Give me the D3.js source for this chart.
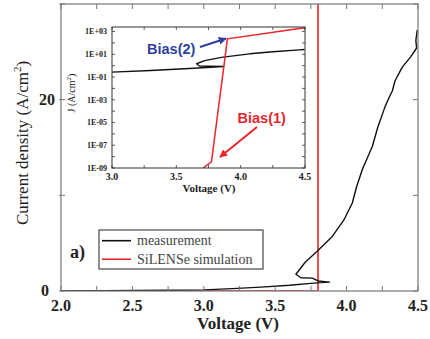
<!DOCTYPE html>
<html><head><meta charset="utf-8">
<script src="https://cdn.jsdelivr.net/npm/d3@7"></script>
<style>html,body{margin:0;padding:0;background:#fff;}svg{display:block;}</style>
</head><body>
<svg id="c" width="430" height="339"></svg>
<script>
// ---- data ----
const measV = [2.00,2.30,2.50,2.80,3.00,3.20,3.40,3.60,3.75,3.82,3.88,3.80,3.76,3.68,3.645,3.71,3.79,3.90,3.98,4.04,4.07,4.11,4.18,4.22,4.27,4.30,4.32,4.34,4.39,4.45,4.49,4.485,4.495];
const measJ = [0,0.02,0.05,0.08,0.12,0.25,0.40,0.60,0.80,0.88,0.93,1.05,1.35,1.38,1.75,3.0,4.1,5.7,7.4,9.2,10.9,12.7,15.1,17.2,19.3,20.3,20.9,22.0,23.4,24.5,25.4,26.2,27.3];
const simV = [2.0,3.80,3.80];
const simJ = [0,0,30];
const insetMeasV = [3.00,3.30,3.60,3.80,3.868,3.75,3.68,3.657,3.72,3.80,3.863,4.07,4.25,4.457,4.496];
const insetMeasJ = [0.27,0.38,0.56,0.76,0.85,0.89,0.93,1.48,2.8,4.2,5.6,11,16.6,24.5,26.3];
const insetSimV = [3.708,3.773,3.897,4.50];
const insetSimJ = [1e-9,3.5e-9,230,2200];
const xTicks = [2.0,2.5,3.0,3.5,4.0,4.5];
const xMinor = [2.25,2.75,3.25,3.75,4.25];
const yTicks = [0,10,20,30];
const yLabels = {0:"0",20:"20"};
const insetXTicks = [3.0,3.5,4.0,4.5];
const insetXMinor = [3.25,3.75,4.25];
const insetYTicks = [1e-9,1e-8,1e-7,1e-6,1e-5,1e-4,1e-3,1e-2,1e-1,1,10,100,1000];
const insetYLabels = ["1E-09","1E-07","1E-05","1E-03","1E-01","1E+01","1E+03"];
const legendItems = [{name:"measurement",color:"#111"},{name:"SiLENSe simulation",color:"#e8262b"}];

const RED = "#e8262b", BLUE = "#2f3f9f";
const serif = "'Liberation Serif','Times New Roman',serif";
const sans = "'Liberation Sans',Arial,sans-serif";
const svg = d3.select("#c");

// ---- main plot ----
const x = d3.scaleLinear().domain([2,4.5]).range([61,418]);
const y = d3.scaleLinear().domain([0,30]).range([291,4]);
svg.append("clipPath").attr("id","mc").append("rect")
  .attr("x",61).attr("y",4).attr("width",357).attr("height",287);

const g = svg.append("g");
const line = d3.line().x(d=>x(d[0])).y(d=>y(d[1]));
g.append("path").attr("clip-path","url(#mc)")
  .datum(simV.map((v,i)=>[v,simJ[i]])).attr("d",line)
  .attr("fill","none").attr("stroke",RED).attr("stroke-width",1.6);
g.append("path").attr("clip-path","url(#mc)")
  .datum(measV.map((v,i)=>[v,measJ[i]])).attr("d",line)
  .attr("fill","none").attr("stroke","#111").attr("stroke-width",1.4).attr("stroke-linejoin","round");

// frame
g.append("rect").attr("x",61).attr("y",4).attr("width",357).attr("height",287)
  .attr("fill","none").attr("stroke","#777").attr("stroke-width",1.2);
// ticks
const tk = g.append("g").attr("stroke","#777").attr("stroke-width",1);
xTicks.concat(xMinor).forEach(v=>{
  tk.append("line").attr("x1",x(v)).attr("x2",x(v)).attr("y1",291).attr("y2",286);
  tk.append("line").attr("x1",x(v)).attr("x2",x(v)).attr("y1",4).attr("y2",9);
});
yTicks.forEach(v=>{
  tk.append("line").attr("x1",59).attr("x2",65).attr("y1",y(v)).attr("y2",y(v));
  tk.append("line").attr("x1",418).attr("x2",413).attr("y1",y(v)).attr("y2",y(v));
});
// tick labels
g.selectAll(".xl").data(xTicks).enter().append("text")
  .attr("x",d=>x(d)).attr("y",311).attr("text-anchor","middle")
  .attr("font-family",serif).attr("font-weight","bold").attr("font-size",16).attr("fill","#222")
  .text(d=>d.toFixed(1));
g.selectAll(".yl").data(yTicks.filter(v=>yLabels[v]!==undefined)).enter().append("text")
  .attr("x",d=>d===0?49:55).attr("y",d=>y(d)+5).attr("text-anchor","end")
  .attr("font-family",serif).attr("font-weight","bold").attr("font-size",16).attr("fill","#222")
  .text(d=>yLabels[d]);
g.append("text").attr("x",238).attr("y",329).attr("text-anchor","middle")
  .attr("font-family",serif).attr("font-weight","bold").attr("font-size",17).attr("fill","#222")
  .text("Voltage (V)");
const yt = g.append("text").attr("transform","translate(28,143) rotate(-90)").attr("text-anchor","middle")
  .attr("font-family",serif).attr("font-size",17).attr("fill","#222");
yt.append("tspan").text("Current density (A/cm");
yt.append("tspan").attr("font-size",11).attr("dy",-7).text("2");
yt.append("tspan").attr("dy",7).text(")");

// legend
const lg = g.append("g");
lg.append("rect").attr("x",99).attr("y",230).attr("width",164).attr("height",39)
  .attr("fill","#fff").attr("stroke","#555").attr("stroke-width",1.3);
legendItems.forEach((it,i)=>{
  const yy = 240.7 + i*18.5;
  lg.append("line").attr("x1",102).attr("x2",131).attr("y1",yy).attr("y2",yy)
    .attr("stroke",it.color).attr("stroke-width",1.6);
  lg.append("text").attr("x",137).attr("y",yy+4.5).attr("font-family",serif).attr("font-size",14)
    .attr("fill","#444").text(it.name);
});
g.append("text").attr("x",70).attr("y",258).attr("font-family",serif).attr("font-weight","bold")
  .attr("font-size",18).attr("fill","#222").text("a)");

// ---- inset ----
const xi = d3.scaleLinear().domain([3,4.5]).range([112,305]);
const yi = d3.scaleLog().domain([1e-9,Math.pow(10,3.4)]).range([168,27]);
const ig = svg.append("g");
ig.append("rect").attr("x",112).attr("y",27).attr("width",193).attr("height",141).attr("fill","#fff");
svg.append("clipPath").attr("id","ic").append("rect")
  .attr("x",112).attr("y",27).attr("width",193).attr("height",141);
const iline = d3.line().x(d=>xi(d[0])).y(d=>yi(d[1]));
ig.append("path").attr("clip-path","url(#ic)")
  .datum(insetMeasV.map((v,i)=>[v,insetMeasJ[i]])).attr("d",iline)
  .attr("fill","none").attr("stroke","#111").attr("stroke-width",1.4).attr("stroke-linejoin","round");
ig.append("path").attr("clip-path","url(#ic)")
  .datum(insetSimV.map((v,i)=>[v,insetSimJ[i]])).attr("d",iline)
  .attr("fill","none").attr("stroke",RED).attr("stroke-width",1.5);
ig.append("rect").attr("x",112).attr("y",27).attr("width",193).attr("height",141)
  .attr("fill","none").attr("stroke","#333").attr("stroke-width",1);
const itk = ig.append("g").attr("stroke","#333").attr("stroke-width",0.8);
insetXTicks.concat(insetXMinor).forEach(v=>{
  itk.append("line").attr("x1",xi(v)).attr("x2",xi(v)).attr("y1",168).attr("y2",165);
  itk.append("line").attr("x1",xi(v)).attr("x2",xi(v)).attr("y1",27).attr("y2",30);
});
insetYTicks.forEach(v=>{
  itk.append("line").attr("x1",112).attr("x2",115).attr("y1",yi(v)).attr("y2",yi(v));
  itk.append("line").attr("x1",305).attr("x2",302).attr("y1",yi(v)).attr("y2",yi(v));
});
ig.selectAll(".ixl").data(insetXTicks).enter().append("text")
  .attr("x",d=>xi(d)).attr("y",180).attr("text-anchor","middle")
  .attr("font-family",serif).attr("font-weight","bold").attr("font-size",10).attr("fill","#222")
  .text(d=>d.toFixed(1));
ig.selectAll(".iyl").data(insetYLabels).enter().append("text")
  .attr("x",107).attr("y",d=>yi(+d)+2.8).attr("text-anchor","end")
  .attr("font-family",serif).attr("font-weight","bold").attr("font-size",8).attr("fill","#222")
  .text(d=>d);
ig.append("text").attr("x",209).attr("y",192).attr("text-anchor","middle")
  .attr("font-family",serif).attr("font-weight","bold").attr("font-size",11).attr("fill","#222")
  .text("Voltage (V)");
const iyt = ig.append("text").attr("transform","translate(75,93) rotate(-90)").attr("text-anchor","middle")
  .attr("font-family",serif).attr("font-size",10).attr("fill","#222");
iyt.append("tspan").text("J (A/cm");
iyt.append("tspan").attr("font-size",7).attr("dy",-4).text("2");
iyt.append("tspan").attr("dy",4).text(")");

// annotations
const defs = svg.append("defs");
[["ab",BLUE],["ar",RED]].forEach(([id,c])=>{
  defs.append("marker").attr("id",id).attr("viewBox","0 0 10 10").attr("refX",9).attr("refY",5)
    .attr("markerWidth",4).attr("markerHeight",4).attr("orient","auto")
    .append("path").attr("d","M0,0 L10,5 L0,10 z").attr("fill",c);
});
ig.append("text").attr("x",147).attr("y",53.5).attr("font-family",sans).attr("font-weight","bold")
  .attr("font-size",14.5).attr("fill",BLUE).text("Bias(2)");
ig.append("line").attr("x1",200).attr("y1",47).attr("x2",226).attr("y2",38.5)
  .attr("stroke",BLUE).attr("stroke-width",2).attr("marker-end","url(#ab)");
ig.append("text").attr("x",237.5).attr("y",122.5).attr("font-family",sans).attr("font-weight","bold")
  .attr("font-size",14.5).attr("fill",RED).text("Bias(1)");
ig.append("line").attr("x1",257).attr("y1",127).attr("x2",220).attr("y2",157)
  .attr("stroke",RED).attr("stroke-width",2).attr("marker-end","url(#ar)");
</script>
</body></html>
